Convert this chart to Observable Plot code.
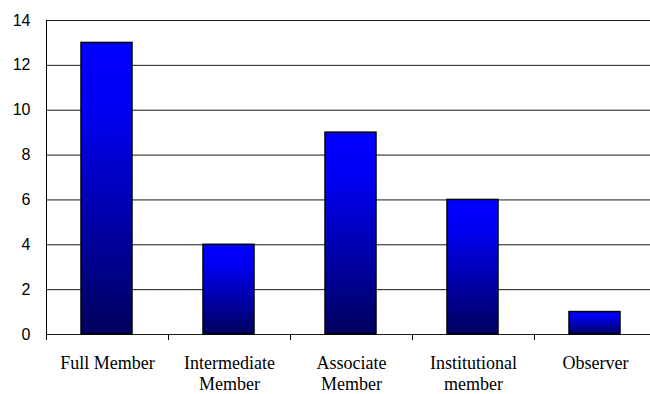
<!DOCTYPE html>
<html>
<head>
<meta charset="utf-8">
<script src="https://cdn.jsdelivr.net/npm/d3@7"></script>
<script src="https://cdn.jsdelivr.net/npm/@observablehq/plot@0.6"></script>
<style>
  html, body { margin: 0; padding: 0; background: #fff; overflow: hidden; }
  #chart svg { display: block; }
</style>
</head>
<body>
<div id="chart"></div>
<script>
// Membership counts by category
const categories = ["Full Member", "Intermediate Member", "Associate Member", "Institutional member", "Observer"];
const categoryLabels = ["Full Member", "Intermediate\nMember", "Associate\nMember", "Institutional\nmember", "Observer"];
const counts = [13, 4, 9, 6, 1];
const yTicks = [0, 2, 4, 6, 8, 10, 12, 14];

const labelOf = new Map(categories.map((c, i) => [c, categoryLabels[i]]));
const serif = "'Liberation Serif', 'Times New Roman', serif";
const sans = "'Liberation Sans', Arial, sans-serif";

const chart = Plot.plot({
  width: 650,
  height: 394,
  marginTop: 20,
  marginBottom: 60,
  marginLeft: 46,
  marginRight: 0,
  style: { background: "#fff", overflow: "hidden" },
  x: { domain: categories, range: [46, 656], padding: 0, axis: null },
  y: { domain: [0, 14], ticks: yTicks },
  marks: [
    Plot.gridY(yTicks, { stroke: "#1a1a1a", strokeOpacity: 1, strokeWidth: 1 }),
    Plot.axisY(yTicks, {
      tickSize: 5, tickPadding: 11, label: null,
      fontSize: 16, fontFamily: sans, fill: "#000", stroke: null, color: "#000"
    }),
    Plot.frame({ anchor: "left", stroke: "#000" }),
    // category boundary ticks beneath the baseline
    Plot.ruleX(categories, {
      x: d => d, y1: () => 0, y2: () => 0,
      insetBottom: -6, dx: -61, stroke: "#000"
    }),
    Plot.barY(counts, {
      x: categories, y: counts,
      insetLeft: 35, insetRight: 36,
      fill: "url(#barGradient)", stroke: "#000", strokeWidth: 1.5
    }),
    Plot.text(categories, {
      x: d => d, frameAnchor: "bottom",
      text: d => labelOf.get(d),
      lineAnchor: "top", dy: 20, lineHeight: 1.15,
      fontSize: 18, fontFamily: serif, fill: "#000"
    })
  ]
});

// vertical blue-to-navy gradient used by each bar
const defs = d3.select(chart).insert("defs", ":first-child");
const grad = defs.append("linearGradient")
  .attr("id", "barGradient")
  .attr("x1", 0).attr("y1", 0).attr("x2", 0).attr("y2", 1);
grad.append("stop").attr("offset", "0%").attr("stop-color", "#0000ff");
grad.append("stop").attr("offset", "22%").attr("stop-color", "#0000f4");
grad.append("stop").attr("offset", "100%").attr("stop-color", "#00005e");

document.getElementById("chart").appendChild(chart);
</script>
</body>
</html>
